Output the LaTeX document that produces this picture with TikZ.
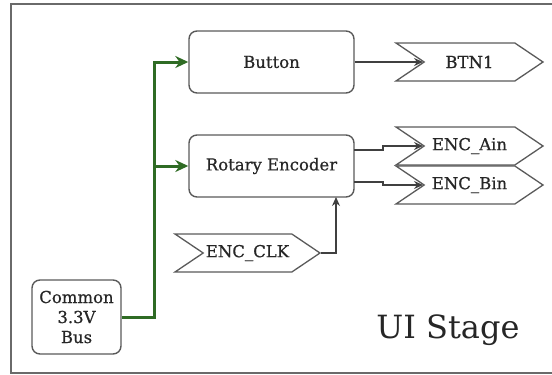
\documentclass[tikz,border=0pt]{standalone}
\usepackage{fontspec}
\setmainfont{DejaVu Serif}
\newfontfamily\labelfont[FakeBold=0.6]{DejaVu Serif}
\usetikzlibrary{shapes.symbols,arrows.meta}
\definecolor{frameGray}{HTML}{6A6A6A}
\definecolor{boxGray}{HTML}{5A5A5A}
\definecolor{busGreen}{HTML}{2F6B24}
\tikzset{
  block/.style={draw=boxGray, line width=1.4pt, rounded corners=8pt, fill=white,
    inner sep=0pt, text=black!85, font=\labelfont\fontsize{16.5}{20}\selectfont},
  port/.style={signal, signal to=east, signal from=west, signal pointer angle=68,
    draw=boxGray, line width=1.3pt, fill=white, inner sep=0pt, text=black!85,
    minimum height=38pt, font=\labelfont\fontsize{16.5}{20}\selectfont},
  wire/.style={draw=black!75, line width=1.3pt, -{Stealth[length=9pt,width=8pt]}},
  power/.style={draw=busGreen, line width=3pt, -{Stealth[length=13pt,width=12pt]}},
}
\begin{document}
\begin{tikzpicture}[x=1pt,y=-1pt]
\useasboundingbox (0,0) rectangle (552,375);
% stage frame (open on the right)
\draw[frameGray, line width=1.2pt] (552,4) -- (11,4) -- (11,373) -- (552,373);

% blocks
\node[block, minimum width=165pt, minimum height=62pt] (btn) at (271.5,62) {Button};
\node[block, minimum width=165pt, minimum height=62pt] (enc) at (271.5,166) {Rotary Encoder};
\node[block, minimum width=89pt, minimum height=74pt, align=center] (bus) at (76.5,317) {Common\\3.3V\\Bus};

% ports
\node[port, minimum width=147pt] (btn1) at (469.5,62) {BTN1};
\node[port, minimum width=147pt] (ain) at (469.5,146) {ENC\_Ain};
\node[port, minimum width=147pt] (bin) at (469.5,185) {ENC\_Bin};
\node[port, minimum width=145pt] (clk) at (247.5,253) {ENC\_CLK};

% power distribution
\coordinate (tap) at (154,317);
\draw[power] (bus.east |- tap) -- (tap) |- (btn.west);
\draw[power] (tap) |- (enc.west);

% signals
\draw[wire] (btn.east) -- (btn1.west);
\draw[wire] (354,150) -- (383,150) -- (383,146) -- (ain.west);
\draw[wire] (354,182) -- (383,182) -- (383,185) -- (bin.west);
\draw[wire] (clk.east) -- (336,253) -- (336,197);

% stage title
\node[anchor=base east, font=\fontsize{32}{36}\selectfont, text=black!85] (title) at (523,338) {UI Stage};
\end{tikzpicture}
\end{document}
